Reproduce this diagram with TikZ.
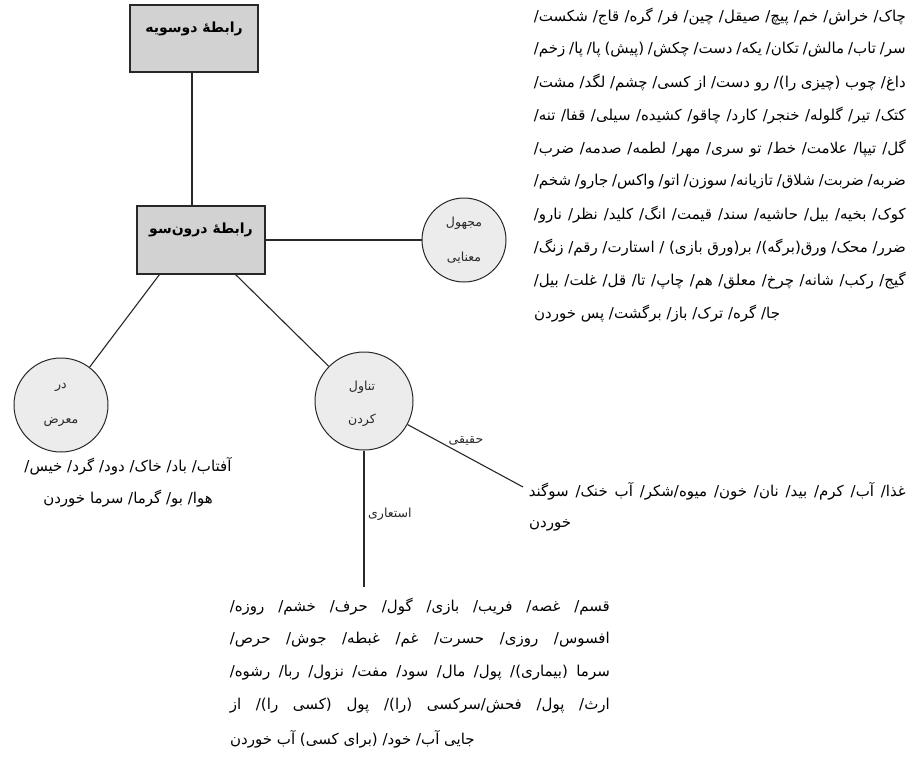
\documentclass[tikz,border=0pt]{standalone}
\usepackage{fontspec}
\usetikzlibrary{calc}
\TeXXeTstate=1
\newfontfamily\arabicfont[Script=Arabic]{DejaVu Sans}
\definecolor{boxgray}{RGB}{210,210,210}
\definecolor{circgray}{RGB}{236,236,236}
\definecolor{inkc}{RGB}{40,40,40}
\begin{document}
\begin{tikzpicture}[x=1pt,y=-1pt,
  boxst/.style={draw=inkc,fill=boxgray,line width=1.1pt,minimum width=128pt,minimum height=67pt,inner sep=0pt},
  circst/.style={circle,draw=inkc,fill=circgray,line width=1pt,inner sep=0pt},
  conn/.style={draw=inkc,line width=1.1pt},
  ttl/.style={font=\arabicfont\bfseries\fontsize{14}{16}\selectfont,inner sep=0pt,text=black},
  ctx/.style={font=\arabicfont\fontsize{12.5}{14}\selectfont,inner sep=0pt,text=inkc},
  txt/.style={font=\arabicfont\fontsize{15}{17}\selectfont,inner sep=0pt,text=black}]
\fill[white] (0,0) rectangle (912,766);
\path[use as bounding box] (0,0) rectangle (912,766);
% boxes
\node[boxst] (b1) at (194,38.5) {};
\node[ttl] (b1t) at (194,29) {\beginR رابطهٔ دوسویه\endR};
\node[boxst,minimum height=68pt] (b2) at (201,240) {};
\node[ttl] (b2t) at (201,230) {\beginR رابطهٔ درون‌سو\endR};
% circles
\node[circst,minimum size=84pt] (m) at (464,240) {};
\node[ctx] (m1) at (464,223) {\beginR مجهول\endR};
\node[ctx] (m2) at (464,258) {\beginR معنایی\endR};
\node[circst,minimum size=94pt] (d) at (61,405) {};
\node[ctx] (d1) at (61,387) {\beginR در\endR};
\node[ctx] (d2) at (61,422) {\beginR معرض\endR};
\node[circst,minimum size=98pt] (t) at (364,401) {};
\node[ctx] (t1) at (362,387) {\beginR تناول\endR};
\node[ctx] (t2) at (362,420) {\beginR کردن\endR};
% connectors
\draw[conn] ($(b1.south)+(-2,0)$) -- ($(b2.north)+(-9,0)$);
\draw[conn] (b2.east) -- (m.west);
\draw[conn] ($(b2.south west)+(23,0)$) -- (d);
\draw[conn] ($(b2.south east)+(-30,0)$) -- (t);
\coordinate (hqend) at (523,487);
\draw[conn] (t) -- (hqend);
\node[ctx] (hq) at (466,441) {\beginR حقیقی\endR};
\coordinate (esend) at (364,587);
\draw[conn] (t.south) -- (esend);
\node[ctx,anchor=west] (es) at (368,514) {\beginR استعاری\endR};
% right block
\node[txt,anchor=east] (r1) at (906,17) {\hbox to 372pt{\beginR چاک/ خراش/ خم/ پیچ/ صیقل/ چین/ فر/ گره/ قاج/ شکست/\endR}};
\node[txt,anchor=east] (r2) at (906,50) {\hbox to 372pt{\beginR سر/ تاب/ مالش/ تکان/ یکه/ دست/ چکش/ (پیش) پا/ پا/ زخم/\endR}};
\node[txt,anchor=east] (r3) at (906,83) {\hbox to 372pt{\beginR داغ/ چوب (چیزی را)/ رو دست/ از کسی/ چشم/ لگد/ مشت/\endR}};
\node[txt,anchor=east] (r4) at (906,116) {\hbox to 372pt{\beginR کتک/ تیر/ گلوله/ خنجر/ کارد/ چاقو/ کشیده/ سیلی/ قفا/ تنه/\endR}};
\node[txt,anchor=east] (r5) at (906,149) {\hbox to 372pt{\beginR گل/ تیپا/ علامت/ خط/ تو سری/ مهر/ لطمه/ صدمه/ ضرب/\endR}};
\node[txt,anchor=east] (r6) at (906,182) {\hbox to 372pt{\beginR ضربه/ ضربت/ شلاق/ تازیانه/ سوزن/ اتو/ واکس/ جارو/ شخم/\endR}};
\node[txt,anchor=east] (r7) at (906,215) {\hbox to 372pt{\beginR کوک/ بخیه/ بیل/ حاشیه/ سند/ قیمت/ انگ/ کلید/ نظر/ نارو/\endR}};
\node[txt,anchor=east] (r8) at (906,248) {\hbox to 372pt{\beginR ضرر/ محک/ ورق(برگه)/ بر(ورق بازی) / استارت/ رقم/ زنگ/\endR}};
\node[txt,anchor=east] (r9) at (906,281) {\hbox to 372pt{\beginR گیج/ رکب/ شانه/ چرخ/ معلق/ هم/ چاپ/ تا/ قل/ غلت/ بیل/\endR}};
\node[txt,anchor=west] (r10) at (534,314) {\beginR جا/ گره/ ترک/ باز/ برگشت/ پس خوردن\endR};
% haqiqi block
\node[txt,anchor=east] (g1) at (906,491) {\hbox to 377pt{\beginR غذا/ آب/ کرم/ بید/ نان/ خون/ میوه/شکر/ آب خنک/ سوگند\endR}};
\node[txt,anchor=west] (g2) at (529,525) {\beginR خوردن\endR};
% dar ma'raz block
\node[txt] (a1) at (128,466) {\beginR آفتاب/ باد/ خاک/ دود/ گرد/ خیس/\endR};
\node[txt] (a2) at (128,499) {\beginR هوا/ بو/ گرما/ سرما خوردن\endR};
% esteari block
\node[txt,anchor=east] (e1) at (610,607) {\hbox to 380pt{\beginR قسم/ غصه/ فریب/ بازی/ گول/ حرف/ خشم/ روزه/\endR}};
\node[txt,anchor=east] (e2) at (610,640) {\hbox to 380pt{\beginR افسوس/ روزی/ حسرت/ غم/ غبطه/ جوش/ حرص/\endR}};
\node[txt,anchor=east] (e3) at (610,673) {\hbox to 380pt{\beginR سرما (بیماری)/ پول/ مال/ سود/ مفت/ نزول/ ربا/ رشوه/\endR}};
\node[txt,anchor=east] (e4) at (610,706) {\hbox to 380pt{\beginR ارث/ پول/ فحش/سرکسی (را)/ پول (کسی را)/ از\endR}};
\node[txt,anchor=west] (e5) at (230,739) {\beginR جایی آب/ خود/ (برای کسی) آب خوردن\endR};
\end{tikzpicture}
\end{document}
